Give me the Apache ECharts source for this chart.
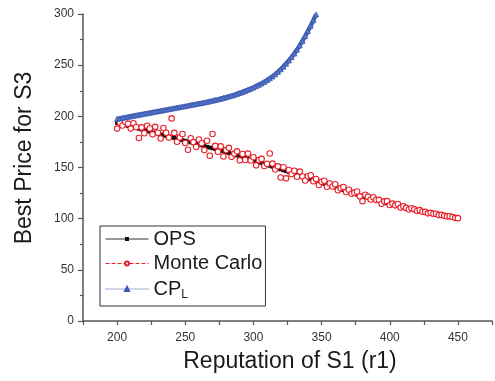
<!DOCTYPE html>
<html><head><meta charset="utf-8">
<script src="https://cdn.jsdelivr.net/npm/echarts@6/dist/echarts.min.js"></script>
<style>html,body{margin:0;padding:0;background:#fff}#c{width:495px;height:381px}</style>
</head><body><div id="c"></div>
<script>
// x grid (reputation r1): OPS & Monte Carlo from 200 to 450 step 2, CP_L from 200 to 346 step 2
var xStart = 200, xStep = 2;
var opsValues = [193.5,192.8,192.1,191.4,190.7,190.0,189.3,188.6,187.9,187.2,186.5,185.8,185.1,184.4,183.7,183.0,182.3,181.6,180.9,180.2,179.5,178.8,178.1,177.4,176.7,176.0,175.3,174.6,173.8,173.1,172.4,171.7,171.0,170.2,169.5,168.8,168.1,167.4,166.6,165.8,165.0,164.2,163.4,162.6,161.8,161.0,160.2,159.4,158.6,157.8,157.0,156.1,155.2,154.4,153.5,152.6,151.7,150.8,150.0,149.1,148.2,147.3,146.4,145.6,144.7,143.8,142.9,142.0,141.2,140.3,139.4,138.5,137.6,136.8,135.9,135.0,134.1,133.2,132.4,131.5,130.6,129.7,128.8,128.0,127.1,126.2,125.3,124.4,123.6,122.8,122.1,121.3,120.5,119.7,119.0,118.2,117.4,116.6,115.9,115.1,114.3,113.7,113.0,112.4,111.8,111.1,110.5,109.9,109.2,108.6,108.0,107.3,106.7,106.1,105.7,105.2,104.8,104.3,103.8,103.4,102.9,102.5,102.0,101.6,101.0,100.5];
var monteCarloValues = [188.0,193.8,191.1,194.4,192.7,188.0,193.3,189.6,178.9,189.2,183.5,190.8,188.1,182.4,189.7,184.0,178.3,188.6,183.9,179.2,198.0,183.8,175.1,179.4,182.7,174.0,167.3,178.6,174.8,170.1,177.4,173.7,167.0,176.2,161.5,182.8,171.1,165.4,170.6,160.8,167.0,169.2,160.4,163.6,165.8,157.0,163.2,157.4,163.6,156.8,160.0,152.1,157.2,158.4,151.5,153.6,163.7,153.8,148.0,151.1,140.2,150.3,139.4,147.6,143.7,146.8,140.9,146.0,141.2,137.3,141.4,142.5,136.6,138.8,132.9,136.0,137.1,131.2,134.4,131.5,133.6,127.7,129.8,131.0,126.1,128.2,124.3,125.4,126.6,121.8,117.1,123.3,121.5,118.7,121.0,118.2,118.4,114.6,116.9,117.1,113.3,114.7,113.0,114.4,110.8,112.1,110.5,108.9,110.2,109.1,107.5,108.3,106.7,106.6,105.2,105.7,104.8,104.8,103.5,103.7,102.9,102.2,102.3,101.6,100.8,100.5];
var cplValues = [197.5,198.0,198.5,199.0,199.5,200.0,200.5,201.0,201.5,202.0,202.5,203.0,203.5,204.0,204.5,205.0,205.5,206.0,206.5,207.0,207.5,208.0,208.5,209.0,209.5,210.0,210.5,211.0,211.5,212.0,212.5,213.0,213.6,214.1,214.7,215.3,215.9,216.5,217.2,217.9,218.6,219.4,220.2,221.0,221.9,222.8,223.8,224.8,225.9,227.0,228.2,229.5,230.8,232.2,233.7,235.3,237.1,239.0,241.1,243.4,245.9,248.6,251.5,254.6,257.9,261.4,265.2,269.3,273.7,278.4,283.4,288.6,294.0,299.6];
var seriesNames = ['OPS', 'Monte Carlo', 'CPL'];
var xTitle = 'Reputation of S1 (r1)';
var yTitle = 'Best Price for S3';

function pairs(vals) {
  return vals.map(function (v, i) { return [xStart + i * xStep, v]; });
}

var FONT = '"Liberation Sans", Arial, Helvetica, sans-serif';
var chart = echarts.init(document.getElementById('c'), null, {renderer: 'canvas'});
chart.setOption({
  animation: false,
  backgroundColor: '#fff',
  grid: {left: 83, right: 0, top: 14, bottom: 60, containLabel: false},
  xAxis: {
    type: 'value', min: 175, max: 475, interval: 25,
    axisLine: {show: true, lineStyle: {color: '#555', width: 1.5}},
    axisTick: {show: true, length: 4, inside: false, lineStyle: {color: '#555', width: 1.2}},
    axisLabel: {
      show: true, margin: 11, color: '#333', fontSize: 12, fontFamily: FONT,
      formatter: function (v) { return v % 50 === 0 && v >= 200 && v <= 450 ? String(v) : ''; }
    },
    splitLine: {show: false}
  },
  yAxis: {
    type: 'value', min: 0, max: 300, interval: 50,
    axisLine: {show: true, lineStyle: {color: '#555', width: 1.5}},
    axisTick: {show: true, length: 5, inside: false, lineStyle: {color: '#555', width: 1.2}},
    minorTick: {show: true, splitNumber: 2, length: 3, lineStyle: {color: '#555', width: 1.2}},
    axisLabel: {show: true, margin: 9, color: '#333', fontSize: 12, fontFamily: FONT},
    splitLine: {show: false}
  },
  legend: {
    orient: 'vertical', left: 100, top: 226,
    padding: [2, 3, 5, 5],
    itemGap: 2.5, itemWidth: 43, itemHeight: 5,
    borderColor: '#333', borderWidth: 1,
    textStyle: {
      fontSize: 20, lineHeight: 22, color: '#1a1a1a', fontFamily: FONT,
      rich: {
        s: {fontSize: 12, lineHeight: 22, color: '#1a1a1a', fontFamily: FONT, padding: [12, 0, 0, 0]}
      }
    },
    formatter: function (name) { return name === 'CPL' ? 'CP{s|L}' : name; },
    data: [
      {name: 'OPS', lineStyle: {color: '#333', width: 1, type: 'solid', opacity: 1}},
      {name: 'Monte Carlo', lineStyle: {color: '#e8202a', width: 1, type: 'dashed', opacity: 1}},
      {name: 'CPL', lineStyle: {color: '#3a58b0', width: 1, type: 'dotted', opacity: 1}}
    ]
  },
  graphic: [
    {type: 'text', x: 290, y: 362, style: {text: xTitle, font: '23px ' + FONT, fill: '#1a1a1a', align: 'center', verticalAlign: 'middle'}},
    {type: 'text', x: 25, y: 158, rotation: Math.PI / 2, style: {text: yTitle, font: '23px ' + FONT, fill: '#1a1a1a', align: 'center', verticalAlign: 'middle'}}
  ],
  series: [
    {
      name: seriesNames[0], type: 'line', data: pairs(opsValues), z: 2,
      symbol: 'rect', symbolSize: 4, showAllSymbol: true,
      itemStyle: {color: '#111'},
      lineStyle: {color: '#1a1a1a', width: 2.5}
    },
    {
      name: seriesNames[1], type: 'line', data: pairs(monteCarloValues), z: 3,
      symbol: 'circle', symbolSize: 5.5, showAllSymbol: true,
      itemStyle: {color: '#fff', borderColor: '#e8202a', borderWidth: 1.1},
      lineStyle: {color: '#e8202a', width: 1, type: 'dashed', opacity: 0}
    },
    {
      name: seriesNames[2], type: 'line', data: pairs(cplValues), z: 4,
      symbol: 'triangle', symbolSize: 5, showAllSymbol: true,
      itemStyle: {color: '#5a78c8', borderColor: '#3a58b0', borderWidth: 0.8},
      lineStyle: {color: '#4262b4', width: 4.5, type: 'solid'}
    }
  ]
});
</script>
</body></html>
